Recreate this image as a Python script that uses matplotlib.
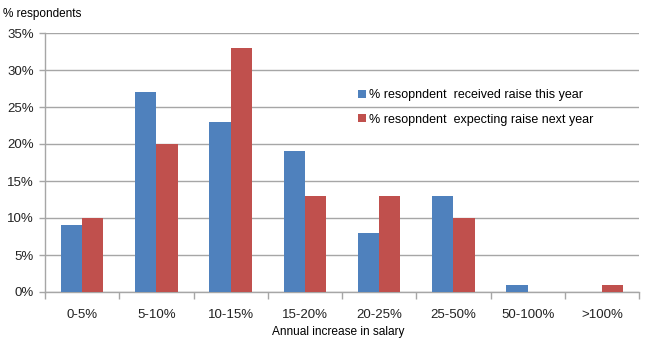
import matplotlib
matplotlib.use("Agg")
import matplotlib.pyplot as plt
import numpy as np

categories = ["0-5%", "5-10%", "10-15%", "15-20%", "20-25%", "25-50%", "50-100%", ">100%"]
received = [9, 27, 23, 19, 8, 13, 1, 0]
expecting = [10, 20, 33, 13, 13, 10, 0, 1]
series_names = ["% resopndent  received raise this year", "% resopndent  expecting raise next year"]
yticks = [0, 5, 10, 15, 20, 25, 30, 35]

plt.rcParams['font.family'] = ['Liberation Sans', 'DejaVu Sans']

fig = plt.figure(figsize=(6.5, 3.5), dpi=100)
ax = fig.add_axes([45/650, 1 - 292/350, (639-45)/650, (292-33)/350])

x = np.arange(len(categories))
w = 0.285
grid_c = "#a6a6a6"
ax.bar(x - w/2, received, w, color="#4F81BD", label=series_names[0], zorder=3)
ax.bar(x + w/2, expecting, w, color="#C0504D", label=series_names[1], zorder=3)

ax.set_xlim(-0.5, len(categories) - 0.5)
ax.set_ylim(0, 35)
ax.set_yticks(yticks)
ax.set_yticklabels([f"{v}%" for v in yticks], fontsize=9.5, color="#222222")
ax.yaxis.grid(True, color=grid_c, linewidth=1, zorder=0)
ax.set_axisbelow(True)

ax.set_xticks(np.arange(len(categories) + 1) - 0.5)
ax.set_xticklabels([])
ax.set_xticks(x, minor=True)
ax.set_xticklabels(categories, minor=True, fontsize=9.5, color="#222222")
ax.tick_params(axis='x', which='major', length=5, color=grid_c, width=1)
ax.tick_params(axis='x', which='minor', length=0, pad=12)
ax.tick_params(axis='y', length=4, color=grid_c, width=1, pad=4)

for s in ["top", "right"]:
    ax.spines[s].set_visible(False)
for s in ["left", "bottom"]:
    ax.spines[s].set_color(grid_c)
    ax.spines[s].set_linewidth(1)

fig.text(3/650, 1 - 14/350, "% respondents", fontsize=8.5, va="center", ha="left", color="black")
fig.text(338/650, 1 - 332/350, "Annual increase in salary", fontsize=8.6, va="center", ha="center", color="black")

leg = ax.legend(loc="upper left", bbox_to_anchor=((353 - 45)/594, (292-84)/259),
                bbox_transform=ax.transAxes, frameon=False, fontsize=9,
                handlelength=0.6, handleheight=0.6, handletextpad=0.3, labelspacing=1.0,
                borderaxespad=0)
leg.set_zorder(5)

fig.savefig("out.png", dpi=100)
